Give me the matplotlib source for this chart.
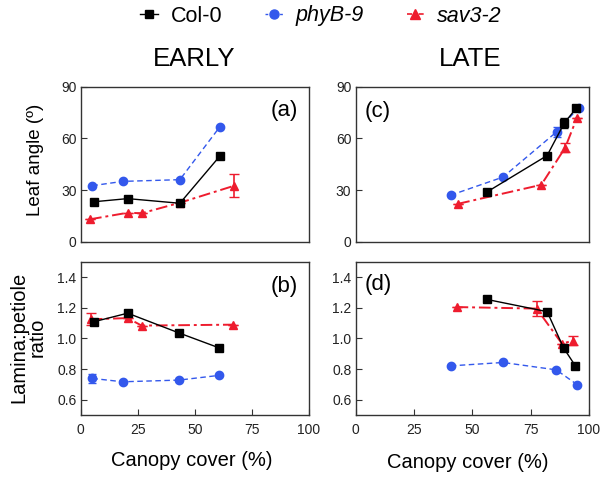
import matplotlib
matplotlib.use("Agg")
import matplotlib.pyplot as plt
from matplotlib.lines import Line2D

plt.rcParams['font.family'] = ['Liberation Sans', 'DejaVu Sans']

# ---------------- data ----------------
# EARLY - leaf angle (a)
a_col_x = [6.0, 20.6, 43.5, 61.1]
a_col_y = [23.2, 25.0, 22.3, 49.8]
a_phy_x = [5.1, 18.4, 43.5, 61.1]
a_phy_y = [32.5, 35.0, 36.0, 66.8]
a_sav_x = [4.1, 20.6, 26.7, 43.5, 67.4]
a_sav_y = [13.0, 16.8, 16.5, 22.6, 32.5]
a_sav_err = [0, 0, 0, 0, 6.8]

# EARLY - lamina:petiole ratio (b)
b_col_x = [6.0, 20.6, 43.1, 60.8]
b_col_y = [1.11, 1.165, 1.036, 0.938]
b_phy_x = [5.1, 18.4, 43.1, 60.8]
b_phy_y = [0.739, 0.717, 0.728, 0.759]
b_phy_err = [0.03, 0, 0, 0]
b_sav_x = [4.4, 20.6, 26.7, 66.7]
b_sav_y = [1.125, 1.133, 1.084, 1.09]
b_sav_err = [0.04, 0, 0, 0]

# LATE - leaf angle (c)
c_col_x = [56.5, 82.1, 89.5, 94.6]
c_col_y = [29.0, 50.0, 69.0, 77.5]
c_col_err = [0, 0, 3.0, 0]
c_phy_x = [40.8, 63.2, 86.2, 95.6]
c_phy_y = [27.0, 37.5, 63.8, 77.8]
c_phy_err = [0, 0, 3.0, 0]
c_sav_x = [44.0, 79.6, 89.8, 94.9]
c_sav_y = [22.0, 33.0, 54.5, 72.0]
c_sav_err = [0, 0, 2.5, 0]

# LATE - lamina:petiole ratio (d)
d_col_x = [56.2, 82.1, 89.2, 94.2]
d_col_y = [1.255, 1.175, 0.937, 0.821]
d_phy_x = [40.8, 63.2, 86.0, 95.1]
d_phy_y = [0.821, 0.843, 0.795, 0.697]
d_sav_x = [43.3, 77.6, 88.4, 93.4]
d_sav_y = [1.205, 1.195, 0.967, 0.985]
d_sav_err = [0, 0.05, 0, 0.03]

x_ticks = [0, 25, 50, 75, 100]
angle_ticks = [0, 30, 60, 90]
ratio_ticks = [0.6, 0.8, 1.0, 1.2, 1.4]

BLACK = '#000000'
BLUE = '#3358ec'
RED = '#ee1c2e'

fig = plt.figure(figsize=(6, 4.8), dpi=100)

ax_a = fig.add_axes([0.1345, 0.4965, 0.380, 0.323])
ax_b = fig.add_axes([0.1345, 0.1354, 0.380, 0.319])
ax_c = fig.add_axes([0.5925, 0.4965, 0.389, 0.323])
ax_d = fig.add_axes([0.5925, 0.1354, 0.389, 0.319])


def draw(ax, col, phy, sav):
    cx, cy, ce = col
    px, py, pe = phy
    sx, sy, se = sav
    ax.errorbar(px, py, yerr=pe, color=BLUE, ls=(0, (4, 2.5)), lw=1.0,
                marker='o', ms=6.0, mec=BLUE, capsize=3, elinewidth=1.2, zorder=3)
    ax.errorbar(sx, sy, yerr=se, color=RED, ls=(0, (6, 2, 1.5, 2)), lw=1.4,
                marker='^', ms=6.3, mec=RED, capsize=3.5, elinewidth=1.2, zorder=4)
    ax.errorbar(cx, cy, yerr=ce, color=BLACK, ls='-', lw=1.0,
                marker='s', ms=5.5, mec=BLACK, capsize=3, elinewidth=1.2, zorder=5)


draw(ax_a, (a_col_x, a_col_y, None), (a_phy_x, a_phy_y, None), (a_sav_x, a_sav_y, a_sav_err))
draw(ax_b, (b_col_x, b_col_y, None), (b_phy_x, b_phy_y, b_phy_err), (b_sav_x, b_sav_y, b_sav_err))
draw(ax_c, (c_col_x, c_col_y, c_col_err), (c_phy_x, c_phy_y, c_phy_err), (c_sav_x, c_sav_y, c_sav_err))
draw(ax_d, (d_col_x, d_col_y, None), (d_phy_x, d_phy_y, None), (d_sav_x, d_sav_y, d_sav_err))

for ax in (ax_a, ax_b, ax_c, ax_d):
    ax.set_xlim(0, 100)
    for s in ax.spines.values():
        s.set_color('#333333')
        s.set_linewidth(1.0)
    ax.tick_params(direction='in', length=4, width=0.8, labelsize=10, pad=3,
                   colors='#333333', labelcolor='#222222')

for ax in (ax_a, ax_c):
    ax.set_ylim(0, 90)
    ax.set_yticks(angle_ticks)
    ax.set_xticks([])
for ax in (ax_b, ax_d):
    ax.set_ylim(0.5, 1.5)
    ax.set_yticks(ratio_ticks)
    ax.set_yticklabels([f"{v:.1f}" for v in ratio_ticks])
    ax.set_xticks(x_ticks)
    ax.tick_params(axis='x', pad=6)

ax_a.text(0.952, 0.848, '(a)', transform=ax_a.transAxes, ha='right', va='center', fontsize=16)
ax_b.text(0.952, 0.84, '(b)', transform=ax_b.transAxes, ha='right', va='center', fontsize=16)
ax_c.text(0.04, 0.84, '(c)', transform=ax_c.transAxes, ha='left', va='center', fontsize=16)
ax_d.text(0.04, 0.85, '(d)', transform=ax_d.transAxes, ha='left', va='center', fontsize=16)

fig.text(194 / 600, 1 - 59 / 480, 'EARLY', ha='center', va='center', fontsize=18.5)
fig.text(470 / 600, 1 - 59 / 480, 'LATE', ha='center', va='center', fontsize=18.5)

fig.text(192 / 600, 1 - 460 / 480, 'Canopy cover (%)', ha='center', va='center', fontsize=14.5)
fig.text(468 / 600, 1 - 463 / 480, 'Canopy cover (%)', ha='center', va='center', fontsize=14.5)

fig.text(35 / 600, 1 - 160 / 480, 'Leaf angle (º)', rotation=90, ha='center', va='center', fontsize=13.5)
fig.text(28 / 600, 1 - 337 / 480, 'Lamina:petiole\nratio', rotation=90, ha='center', va='center',
         fontsize=14.5, linespacing=1.0)

handles = [
    Line2D([], [], color=BLACK, ls='-', marker='s', ms=6, lw=1.0),
    Line2D([], [], color=BLUE, ls=(0, (2, 1.5)), marker='o', ms=6.5, lw=1.0),
    Line2D([], [], color=RED, ls=(0, (3, 1.5, 1, 1.5)), marker='^', ms=6.5, lw=1.2),
]
leg = fig.legend(handles, ['Col-0', 'phyB-9', 'sav3-2'], loc='center', bbox_to_anchor=(0.535, 1 - 16 / 480),
                 ncol=3, frameon=False, fontsize=15.5, handlelength=0.8, handletextpad=0.6,
                 columnspacing=2.0)
for t in leg.get_texts()[1:]:
    t.set_fontstyle('italic')

fig.savefig('out.png', dpi=100)
